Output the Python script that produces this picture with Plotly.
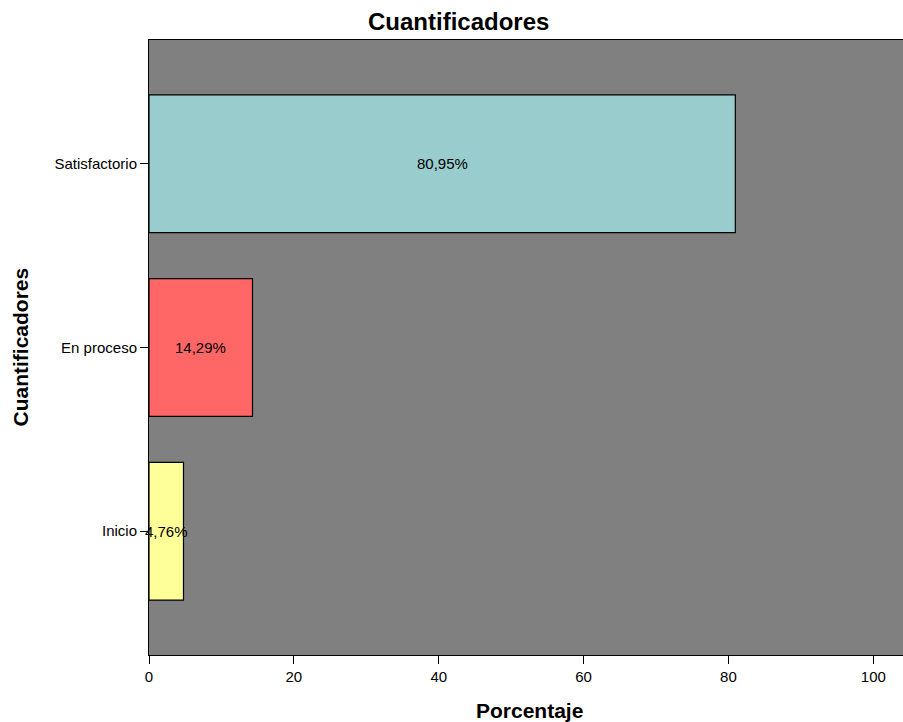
import plotly.graph_objects as go

categories = ["Inicio", "En proceso", "Satisfactorio"]
values = [4.76, 14.29, 80.95]
labels = ["4,76%", "14,29%", "80,95%"]
colors = ["#FFFF99", "#FF6666", "#99CCCC"]
x_ticks = [0, 20, 40, 60, 80, 100]

FONT = "Liberation Sans, Arial, sans-serif"

fig = go.Figure()
fig.add_trace(go.Bar(
    x=values, y=categories, orientation="h",
    marker=dict(color=colors, line=dict(color="black", width=1.2)),
    width=0.75, showlegend=False, hoverinfo="skip",
))
for c, v, t in zip(categories, values, labels):
    fig.add_annotation(x=v / 2, y=c, text=t, showarrow=False,
                       font=dict(family=FONT, size=15, color="black"))

# axis titles
fig.add_annotation(xref="paper", yref="paper", x=0.505, y=0, yshift=-55,
                   xanchor="center", yanchor="middle", showarrow=False,
                   text="<b>Porcentaje</b>", font=dict(family=FONT, size=21, color="black"))
fig.add_annotation(xref="paper", yref="paper", x=0, y=0.5, xshift=-129,
                   xanchor="center", yanchor="middle", showarrow=False, textangle=-90,
                   text="<b>Cuantificadores</b>", font=dict(family=FONT, size=21, color="black"))

fig.update_layout(
    width=903, height=722,
    margin=dict(l=149, r=0, t=40, b=67),
    paper_bgcolor="white", plot_bgcolor="#808080",
    title=dict(text="<b>Cuantificadores</b>", x=0.508, xanchor="center",
               yref="container", y=1 - 22 / 722, yanchor="middle",
               font=dict(family=FONT, size=24, color="black")),
    font=dict(family=FONT, size=15, color="black"),
)
fig.update_xaxes(
    range=[0, 104.1], tickvals=x_ticks, showgrid=False, zeroline=False,
    ticks="outside", ticklen=8, tickcolor="black",
    showline=True, linecolor="black", linewidth=1, mirror=True,
    tickfont=dict(size=15),
)
fig.update_yaxes(
    categoryorder="array", categoryarray=categories,
    range=[-0.674, 2.674], showgrid=False, zeroline=False,
    ticks="outside", ticklen=8, tickcolor="black",
    showline=True, linecolor="black", linewidth=1, mirror=True,
    tickfont=dict(size=15),
)
fig.write_html("out.html", config={"displayModeBar": False},
               post_script="document.body.style.margin='0';document.body.style.overflow='hidden';")
